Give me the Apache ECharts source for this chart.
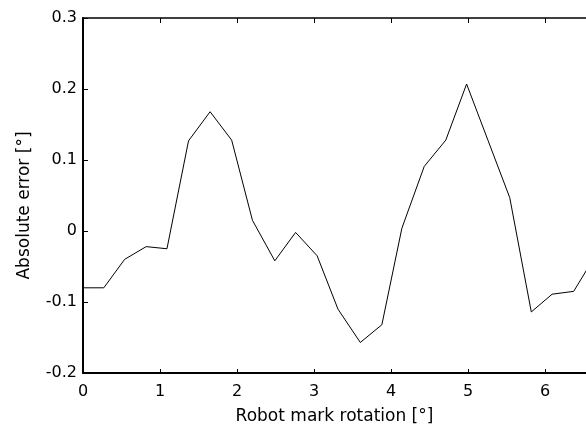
<!DOCTYPE html>
<html>
<head>
<meta charset="utf-8">
<script src="https://cdn.jsdelivr.net/npm/echarts@6/dist/echarts.min.js"></script>
<style>html,body{margin:0;padding:0;background:#fff}#c{width:586px;height:435px}</style>
</head>
<body>
<div id="c"></div>
<script>
const rotation = [0, 0.27, 0.54, 0.82, 1.09, 1.37, 1.65, 1.93, 2.20, 2.49, 2.76, 3.04, 3.31, 3.60, 3.88, 4.14, 4.43, 4.71, 4.98, 5.26, 5.54, 5.82, 6.09, 6.37, 6.65];
const absError = [-0.080, -0.080, -0.040, -0.022, -0.025, 0.127, 0.168, 0.128, 0.015, -0.042, -0.002, -0.035, -0.110, -0.157, -0.132, 0.004, 0.091, 0.128, 0.207, 0.127, 0.047, -0.114, -0.089, -0.085, -0.035];
const xTicks = [0, 1, 2, 3, 4, 5, 6];
const yTickLabels = ['-0.2', '-0.1', '0', '0.1', '0.2', '0.3'];
const xName = 'Robot mark rotation [°]';
const yName = 'Absolute error [°]';

const font = 'DejaVu Sans';
const chart = echarts.init(document.getElementById('c'), null, {renderer: 'canvas'});
chart.setOption({
  animation: false,
  backgroundColor: '#fff',
  grid: {left: 83, top: 18, right: 0, bottom: 62, containLabel: false},
  xAxis: [{
    type: 'value', min: 0, max: 6.53, interval: 1, position: 'bottom',
    name: xName, nameLocation: 'middle', nameGap: 35,
    nameTextStyle: {fontFamily: font, fontSize: 17, color: '#000'},
    axisLine: {show: true, onZero: false, lineStyle: {color: '#000', width: 2}},
    axisTick: {show: true, inside: true, length: 4, lineStyle: {color: '#000', width: 1}},
    axisLabel: {show: true, margin: 11, fontFamily: font, fontSize: 16, color: '#000', showMaxLabel: false,
      formatter: v => xTicks.indexOf(v) >= 0 ? String(v) : ''},
    splitLine: {show: false}
  }, {
    type: 'value', min: 0, max: 6.53, interval: 1, position: 'top',
    axisLine: {show: true, onZero: false, lineStyle: {color: '#000', width: 1.5}},
    axisTick: {show: true, inside: true, length: 5, lineStyle: {color: '#000', width: 1}},
    axisLabel: {show: false}, splitLine: {show: false}
  }],
  yAxis: {
    type: 'value', min: -0.2, max: 0.3, interval: 0.1,
    name: yName, nameLocation: 'middle', nameGap: 50,
    nameTextStyle: {fontFamily: font, fontSize: 17, color: '#000', padding: [0, 20, 0, 0]},
    axisLine: {show: true, onZero: false, lineStyle: {color: '#000', width: 2}},
    axisTick: {show: true, inside: true, length: 5, lineStyle: {color: '#000', width: 1}},
    axisLabel: {margin: 6, fontFamily: font, fontSize: 16, color: '#000',
      formatter: v => yTickLabels[Math.round((v + 0.2) * 10)]},
    splitLine: {show: false}
  },
  series: [{
    type: 'line', xAxisIndex: 0,
    data: rotation.map((x, i) => [x, absError[i]]),
    showSymbol: false, symbol: 'none', clip: true,
    lineStyle: {color: '#000', width: 1}
  }]
});
</script>
</body>
</html>
